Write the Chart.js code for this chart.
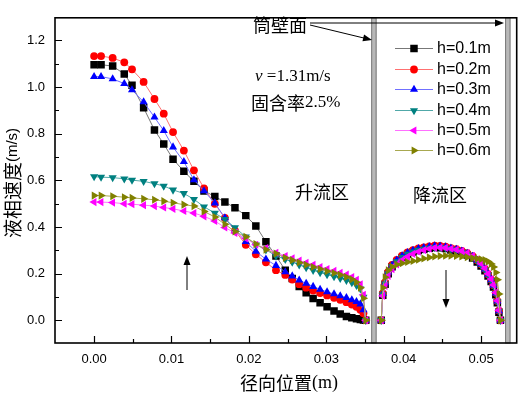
<!DOCTYPE html>
<html>
<head>
<meta charset="utf-8">
<script src="https://cdn.jsdelivr.net/npm/chart.js@4.4.0/dist/chart.umd.min.js"></script>
<style>
  body { margin: 0; background: #fff; }
  canvas { display: block; }
</style>
</head>
<body>
<canvas id="c" width="522" height="396"></canvas>
<script>
// tick labels
const xTicks = [0, 0.01, 0.02, 0.03, 0.04, 0.05];
const yTicks = [0, 0.2, 0.4, 0.6, 0.8, 1.0, 1.2];

// radial positions (m): up-flow zone and down-flow zone
const xUp = [0, 0.0009, 0.0024, 0.0039, 0.0049, 0.0064, 0.0078, 0.0090, 0.0102, 0.0116,
  0.0129, 0.0142, 0.0156, 0.0169, 0.0182, 0.0196, 0.0209, 0.0222, 0.0235, 0.0247,
  0.0256, 0.0265, 0.0274, 0.0283, 0.0292, 0.0301, 0.0310, 0.0318, 0.0326, 0.0333,
  0.0339, 0.0344, 0.0348, 0.0351];
const xDown = [0.0371, 0.0373, 0.0376, 0.0380, 0.0385, 0.0391, 0.0398, 0.0405, 0.0412, 0.0419,
  0.0426, 0.0433, 0.0440, 0.0447, 0.0454, 0.0461, 0.0468, 0.0475, 0.0482, 0.0489,
  0.0495, 0.0500, 0.0505, 0.0509, 0.0513, 0.0516, 0.0519, 0.0521, 0.0523, 0.0525];

// liquid velocity (m/s)
const h01Up = [1.096, 1.096, 1.090, 1.056, 1.008, 0.911, 0.816, 0.756, 0.691, 0.639,
  0.596, 0.555, 0.531, 0.507, 0.483, 0.449, 0.405, 0.337, 0.276, 0.215,
  0.180, 0.145, 0.118, 0.094, 0.076, 0.058, 0.040, 0.027, 0.017, 0.011,
  0.007, 0.004, 0.002, 0];
const h02Up = [1.133, 1.133, 1.125, 1.106, 1.076, 1.022, 0.949, 0.886, 0.807, 0.728,
  0.643, 0.566, 0.500, 0.439, 0.385, 0.324, 0.283, 0.249, 0.215, 0.195,
  0.175, 0.155, 0.140, 0.128, 0.117, 0.107, 0.097, 0.088, 0.078, 0.068,
  0.058, 0.046, 0.030, 0];
const h03Up = [1.045, 1.045, 1.035, 1.015, 0.988, 0.936, 0.871, 0.813, 0.743, 0.680,
  0.602, 0.555, 0.503, 0.439, 0.388, 0.337, 0.296, 0.262, 0.235, 0.208,
  0.190, 0.172, 0.158, 0.145, 0.133, 0.122, 0.113, 0.105, 0.097, 0.088,
  0.080, 0.070, 0.045, 0];
const h04Up = [0.616, 0.614, 0.612, 0.607, 0.601, 0.596, 0.586, 0.576, 0.559, 0.544,
  0.519, 0.487, 0.460, 0.433, 0.398, 0.358, 0.324, 0.303, 0.276, 0.262,
  0.250, 0.238, 0.226, 0.215, 0.205, 0.196, 0.188, 0.180, 0.172, 0.162,
  0.150, 0.135, 0.100, 0];
const h05Up = [0.507, 0.507, 0.505, 0.500, 0.498, 0.494, 0.490, 0.484, 0.478, 0.469,
  0.460, 0.446, 0.426, 0.398, 0.375, 0.351, 0.324, 0.310, 0.290, 0.276,
  0.266, 0.256, 0.247, 0.238, 0.229, 0.220, 0.212, 0.204, 0.196, 0.186,
  0.174, 0.155, 0.110, 0];
const h06Up = [0.535, 0.535, 0.532, 0.528, 0.525, 0.521, 0.517, 0.511, 0.504, 0.496,
  0.490, 0.467, 0.443, 0.412, 0.381, 0.358, 0.327, 0.303, 0.286, 0.268,
  0.258, 0.248, 0.238, 0.229, 0.220, 0.211, 0.203, 0.195, 0.186, 0.176,
  0.163, 0.140, 0.095, 0];

const h01Down = [0, 0.108, 0.155, 0.200, 0.230, 0.251, 0.269, 0.283, 0.293, 0.300,
  0.305, 0.309, 0.312, 0.311, 0.308, 0.302, 0.297, 0.290, 0.280, 0.267,
  0.250, 0.233, 0.213, 0.190, 0.167, 0.143, 0.110, 0.075, 0.035, 0];
const h02Down = [0, 0.116, 0.163, 0.208, 0.238, 0.259, 0.277, 0.291, 0.301, 0.308,
  0.313, 0.317, 0.320, 0.319, 0.316, 0.310, 0.305, 0.298, 0.288, 0.275,
  0.258, 0.241, 0.221, 0.198, 0.175, 0.151, 0.118, 0.083, 0.042, 0];
const h03Down = [0, 0.115, 0.162, 0.207, 0.237, 0.258, 0.276, 0.290, 0.300, 0.307,
  0.312, 0.316, 0.319, 0.318, 0.315, 0.309, 0.304, 0.297, 0.287, 0.274,
  0.257, 0.240, 0.220, 0.197, 0.174, 0.150, 0.117, 0.082, 0.041, 0];
const h04Down = [0, 0.110, 0.157, 0.201, 0.231, 0.252, 0.270, 0.284, 0.294, 0.301,
  0.306, 0.310, 0.313, 0.313, 0.310, 0.305, 0.300, 0.293, 0.283, 0.270,
  0.254, 0.237, 0.217, 0.195, 0.172, 0.148, 0.116, 0.080, 0.040, 0];
const h05Down = [0, 0.105, 0.148, 0.190, 0.219, 0.240, 0.258, 0.273, 0.285, 0.294,
  0.301, 0.307, 0.311, 0.312, 0.311, 0.307, 0.303, 0.297, 0.288, 0.276,
  0.260, 0.243, 0.223, 0.200, 0.177, 0.152, 0.119, 0.084, 0.043, 0];
const h06Down = [0, 0.140, 0.185, 0.215, 0.230, 0.239, 0.245, 0.250, 0.255, 0.260,
  0.265, 0.270, 0.274, 0.276, 0.277, 0.277, 0.276, 0.274, 0.271, 0.267,
  0.264, 0.262, 0.258, 0.252, 0.242, 0.229, 0.205, 0.174, 0.113, 0];

const labels = ['h=0.1m', 'h=0.2m', 'h=0.3m', 'h=0.4m', 'h=0.5m', 'h=0.6m'];
const upSets = [h01Up, h02Up, h03Up, h04Up, h05Up, h06Up];
const downSets = [h01Down, h02Down, h03Down, h04Down, h05Down, h06Down];

// styles
const markColors = ['#000000', '#ff0000', '#0000ff', '#008080', '#ff00ff', '#808000'];
const lineColors = ['#777777', '#ff7070', '#7070ff', '#50a8a8', '#ff70ff', '#a8a850'];
const shapes = ['rect', 'circle', 'triangle', 'triangle', 'triangle', 'triangle'];
const rotations = [0, 0, 0, 180, 270, 90];
const radii = [5.3, 3.9, 4.7, 4.7, 4.7, 4.7];

const datasets = labels.map((lab, i) => {
  const pts = xUp.map((x, k) => ({ x: x, y: upSets[i][k] }));
  pts.push({ x: 0.0361, y: null }); // wall gap
  xDown.forEach((x, k) => pts.push({ x: x, y: downSets[i][k] }));
  return {
    label: lab,
    data: pts,
    borderColor: lineColors[i],
    borderWidth: 1,
    pointStyle: shapes[i],
    rotation: rotations[i],
    pointRadius: radii[i],
    pointBackgroundColor: markColors[i],
    pointBorderColor: markColors[i],
    pointBorderWidth: 0,
    spanGaps: false,
    order: 5 - i
  };
});

function arrow(ctx, x1, y1, x2, y2) {
  const a = Math.atan2(y2 - y1, x2 - x1);
  const len = 9, hw = 3.5;
  ctx.beginPath();
  ctx.moveTo(x1, y1);
  ctx.lineTo(x2 - Math.cos(a) * len * 0.6, y2 - Math.sin(a) * len * 0.6);
  ctx.stroke();
  ctx.beginPath();
  ctx.moveTo(x2, y2);
  ctx.lineTo(x2 - Math.cos(a) * len - Math.sin(a) * hw, y2 - Math.sin(a) * len + Math.cos(a) * hw);
  ctx.lineTo(x2 - Math.cos(a) * len + Math.sin(a) * hw, y2 - Math.sin(a) * len - Math.cos(a) * hw);
  ctx.closePath();
  ctx.fill();
}

function drawRun(ctx, parts, x, y) {
  parts.forEach(p => {
    ctx.font = p[1];
    ctx.fillText(p[0], x, y);
    x += ctx.measureText(p[0]).width;
  });
}

const CJK = '"Noto Sans CJK SC"';

const deco = {
  id: 'deco',
  beforeDatasetsDraw(chart) {
    const { ctx, chartArea: a, scales: { x } } = chart;
    ctx.save();
    [[0.0358, 0.0365], [0.0531, 0.0538]].forEach(b => {
      const l = x.getPixelForValue(b[0]), r = x.getPixelForValue(b[1]);
      ctx.fillStyle = '#b8b8b8';
      ctx.fillRect(l, a.top, r - l, a.bottom - a.top);
      ctx.strokeStyle = '#7a7a7a';
      ctx.lineWidth = 1;
      ctx.strokeRect(l + 0.5, a.top, r - l - 1, a.bottom - a.top);
    });
    ctx.restore();
  },
  afterDatasetsDraw(chart) {
    const { ctx, chartArea: a, scales: { x, y } } = chart;
    ctx.save();
    // frame
    ctx.strokeStyle = '#000';
    ctx.lineWidth = 1.6;
    ctx.strokeRect(a.left, a.top, a.right - a.left, a.bottom - a.top);
    // inward ticks
    ctx.lineWidth = 1.2;
    ctx.beginPath();
    for (let v = 0; v <= 1.25; v += 0.1) {
      const py = Math.round(y.getPixelForValue(v)) + 0.5;
      const major = Math.round(v * 10) % 2 === 0;
      ctx.moveTo(a.left, py);
      ctx.lineTo(a.left + (major ? 7 : 4), py);
    }
    for (let v = 0; v <= 0.0545; v += 0.005) {
      const px = Math.round(x.getPixelForValue(v)) + 0.5;
      const major = Math.round(v * 200) % 2 === 0;
      ctx.moveTo(px, a.bottom);
      ctx.lineTo(px, a.bottom - (major ? 7 : 4));
    }
    ctx.stroke();

    // annotations
    ctx.fillStyle = '#000';
    ctx.strokeStyle = '#000';
    ctx.lineWidth = 1;
    ctx.textBaseline = 'middle';
    ctx.textAlign = 'left';
    drawRun(ctx, [['筒壁面', '18px ' + CJK]], 253, 25);
    drawRun(ctx, [['v', 'italic 17px "Liberation Serif"'], [' =1.31m/s', '17px "Liberation Serif"']], 255, 77);
    drawRun(ctx, [['固含率', '18px ' + CJK], ['2.5%', '17px "Liberation Serif"']], 251, 103);
    drawRun(ctx, [['升流区', '18px ' + CJK]], 295, 192);
    drawRun(ctx, [['降流区', '18px ' + CJK]], 413, 195);
    arrow(ctx, 310, 23, 504, 23);
    arrow(ctx, 310, 25, 372, 40);
    arrow(ctx, 187, 290, 187, 256);
    arrow(ctx, 446, 270, 446, 308);

    // legend
    const ly = [48, 69, 89, 110, 130, 150];
    chart.data.datasets.forEach((ds, i) => {
      ctx.strokeStyle = ds.borderColor;
      ctx.lineWidth = 1;
      ctx.beginPath();
      ctx.moveTo(395, ly[i] + 0.5);
      ctx.lineTo(433, ly[i] + 0.5);
      ctx.stroke();
      ctx.fillStyle = ds.pointBackgroundColor;
      ctx.strokeStyle = ds.pointBorderColor;
      Chart.helpers.drawPoint(ctx, {
        pointStyle: ds.pointStyle, rotation: ds.rotation,
        radius: ds.pointRadius, borderWidth: 0
      }, 414, ly[i] + 0.5);
      ctx.fillStyle = '#000';
      ctx.font = '16px "Liberation Sans"';
      ctx.fillText(ds.label, 437, ly[i] + 1);
    });

    // axis titles
    ctx.fillStyle = '#000';
    const t1 = '径向位置', t2 = '(m)';
    ctx.font = '18px ' + CJK;
    const w1 = ctx.measureText(t1).width;
    ctx.font = '18px "Liberation Serif"';
    const w2 = ctx.measureText(t2).width;
    drawRun(ctx, [[t1, '18px ' + CJK], [t2, '18px "Liberation Serif"']], 289 - (w1 + w2) / 2, 383);

    ctx.translate(13, 183);
    ctx.rotate(-Math.PI / 2);
    ctx.font = '19px ' + CJK;
    const w3 = ctx.measureText('液相速度').width;
    ctx.font = '15px "Liberation Sans"';
    const w4 = ctx.measureText('(m/s)').width;
    drawRun(ctx, [['液相速度', '19px ' + CJK], ['(m/s)', '15px "Liberation Sans"']], -(w3 + w4) / 2, 0);
    ctx.restore();
  }
};

new Chart(document.getElementById('c'), {
  type: 'line',
  data: { datasets: datasets },
  options: {
    responsive: false,
    devicePixelRatio: 1,
    animation: false,
    events: [],
    layout: { padding: { top: 2, right: 3, left: 0, bottom: 0 } },
    plugins: { legend: { display: false }, tooltip: { enabled: false } },
    scales: {
      x: {
        type: 'linear',
        min: -0.00505,
        max: 0.0546,
        grid: { display: false, drawTicks: false },
        border: { display: false },
        ticks: {
          color: '#000',
          font: { family: 'Liberation Sans', size: 13 },
          padding: 9,
          maxRotation: 0,
          callback: v => v.toFixed(2)
        },
        afterBuildTicks: s => { s.ticks = xTicks.map(v => ({ value: v })); },
        afterFit: s => { s.height = 53; }
      },
      y: {
        min: -0.097,
        max: 1.297,
        grid: { display: false, drawTicks: false },
        border: { display: false },
        ticks: {
          color: '#000',
          font: { family: 'Liberation Sans', size: 13 },
          padding: 10,
          callback: v => v.toFixed(1)
        },
        afterBuildTicks: s => { s.ticks = yTicks.map(v => ({ value: v })); },
        afterFit: s => { s.width = 55; }
      }
    }
  },
  plugins: [deco]
});
</script>
</body>
</html>
